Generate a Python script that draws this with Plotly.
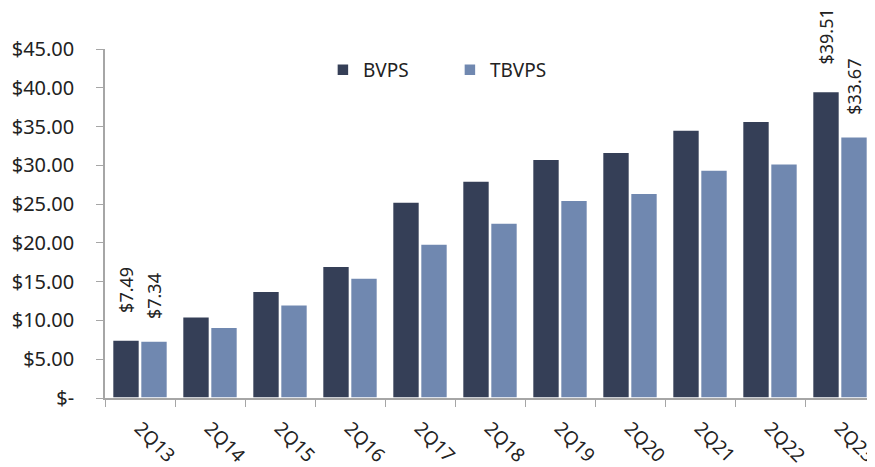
import plotly.graph_objects as go

QUARTERS = ["2Q13", "2Q14", "2Q15", "2Q16", "2Q17", "2Q18", "2Q19", "2Q20", "2Q21", "2Q22", "2Q23"]
BVPS = [7.49, 10.48, 13.76, 17.00, 25.27, 27.98, 30.80, 31.70, 34.55, 35.70, 39.51]
TBVPS = [7.34, 9.11, 12.03, 15.47, 19.86, 22.56, 25.50, 26.40, 29.40, 30.20, 33.67]

Y_TICKS = [0, 5, 10, 15, 20, 25, 30, 35, 40, 45]
Y_LABELS = ["$-"] + [f"${v:.2f}" for v in Y_TICKS[1:]]

COLORS = {"BVPS": "#353f57", "TBVPS": "#7088b0"}
FONT = "Noto Sans, Open Sans, sans-serif"

fig = go.Figure()
for name, vals in [("BVPS", BVPS), ("TBVPS", TBVPS)]:
    fig.add_trace(go.Bar(
        x=QUARTERS, y=vals, name=name,
        marker={"color": COLORS[name], "line": {"color": "white", "width": 1.5}},
    ))

# value labels only on the first and last quarter, rotated like the original
annotations = []
for vals, xs, ys in [(BVPS, -14, 25), (TBVPS, 14, 20)]:
    for i in (0, len(vals) - 1):
        annotations.append({
            "x": QUARTERS[i], "y": vals[i], "xref": "x", "yref": "y",
            "text": f"${vals[i]:.2f}", "textangle": -90, "showarrow": False,
            "xshift": xs, "yshift": ys, "yanchor": "bottom",
            "font": {"size": 18, "color": "#222", "family": FONT},
        })

fig.update_layout(
    width=875, height=467,
    template="plotly_white",
    barmode="group", bargap=0.2, bargroupgap=0.04,
    font={"family": FONT, "size": 19, "color": "#222"},
    margin={"l": 97, "r": 8, "t": 41, "b": 77},
    plot_bgcolor="white", paper_bgcolor="white",
    showlegend=True,
    legend={"orientation": "h", "x": 0.283, "y": 0.94, "xanchor": "left", "yanchor": "middle",
            "font": {"size": 19}, "itemwidth": 30, "entrywidth": 82,
            "entrywidthmode": "pixels", "bgcolor": "rgba(0,0,0,0)"},
    annotations=annotations,
)
fig.update_yaxes(
    range=[0, 45], tickvals=Y_TICKS, ticktext=Y_LABELS, automargin=False,
    showgrid=False, showline=True, linecolor="#a6a6a6", linewidth=1.5,
    ticks="outside", ticklen=7, tickcolor="#a6a6a6", zeroline=False,
    ticklabelstandoff=18, tickfont={"size": 20},
)
fig.update_xaxes(
    tickangle=45, tickson="boundaries", ticks="outside", ticklen=7, tickcolor="#a6a6a6",
    showline=True, linecolor="#a6a6a6", linewidth=1.5, showgrid=False, automargin=False,
    ticklabelstandoff=10, tickfont={"size": 19},
)

fig.write_html("out.html")
